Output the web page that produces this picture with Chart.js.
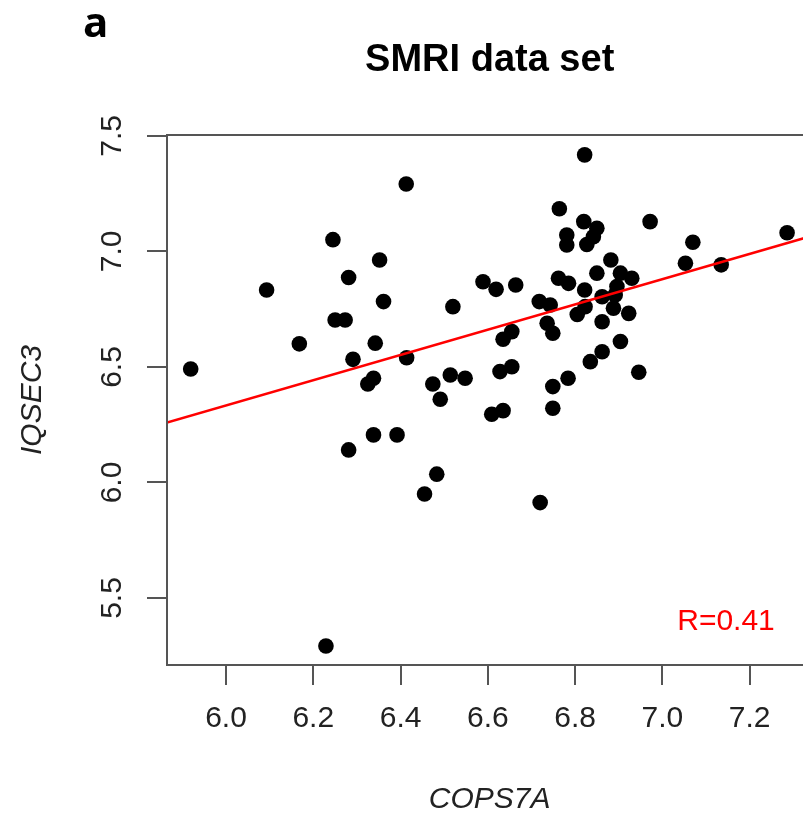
<!DOCTYPE html>
<html><head><meta charset="utf-8">
<script src="https://cdn.jsdelivr.net/npm/chart.js@4.4.1/dist/chart.umd.min.js"></script>
<style>
html,body{margin:0;padding:0;background:#fff;overflow:hidden;}
#wrap{position:relative;width:803px;height:816px;overflow:hidden;background:#fff;}
canvas{position:absolute;left:0;top:0;}
</style></head>
<body><div id="wrap"><canvas id="c" width="830" height="816" style="width:830px;height:816px"></canvas></div>
<script>
// ---- data ----
const cops7a = [6.245, 6.281, 6.093, 6.250, 6.273, 6.822, 6.413, 6.764, 6.820, 6.850,
  6.842, 6.827, 6.781, 6.781, 6.352, 6.361, 6.520, 6.589, 6.619, 6.664,
  6.762, 6.785, 6.822, 6.718, 6.743, 6.972, 7.286, 7.070, 7.053, 7.135,
  6.882, 6.850, 6.904, 6.930, 6.896, 6.862, 6.892, 6.823, 6.888, 6.923,
  6.862, 6.904, 6.862, 6.835, 6.946, 6.342, 6.414, 6.635, 6.655, 6.736,
  6.749, 6.805, 6.514, 6.548, 6.474, 6.491, 6.628, 6.655, 6.749, 6.784,
  6.749, 6.609, 6.635, 6.338, 6.392, 6.483, 6.455, 6.720, 6.168, 5.919,
  6.291, 6.325, 6.338, 6.281, 6.229];
const iqsec3 = [7.051, 6.887, 6.833, 6.703, 6.703, 7.418, 7.292, 7.185, 7.129, 7.100,
  7.064, 7.030, 7.071, 7.028, 6.963, 6.783, 6.761, 6.869, 6.836, 6.855,
  6.884, 6.862, 6.833, 6.783, 6.768, 7.129, 7.081, 7.040, 6.949, 6.942,
  6.963, 6.906, 6.906, 6.884, 6.848, 6.804, 6.812, 6.761, 6.754, 6.732,
  6.696, 6.610, 6.566, 6.523, 6.477, 6.603, 6.540, 6.620, 6.653, 6.689,
  6.646, 6.727, 6.465, 6.451, 6.426, 6.360, 6.480, 6.501, 6.415, 6.451,
  6.321, 6.295, 6.311, 6.206, 6.206, 6.036, 5.950, 5.913, 6.600, 6.491,
  6.533, 6.426, 6.451, 6.141, 5.292];
const fitX = [5.8647, 7.344];
const fitY = [6.259, 7.068];
const xTicks = [6.0, 6.2, 6.4, 6.6, 6.8, 7.0, 7.2];
const xTickLabels = ['6.0', '6.2', '6.4', '6.6', '6.8', '7.0', '7.2'];
const yTicks = [5.5, 6.0, 6.5, 7.0, 7.5];
const yTickLabels = ['5.5', '6.0', '6.5', '7.0', '7.5'];
const xRange = [5.8647, 7.344];
const yRange = [5.210, 7.504];
const titleText = 'SMRI data set';
const xTitle = 'COPS7A';
const yTitle = 'IQSEC3';
const rLabel = 'R=0.41';
const rPos = [7.146, 5.396];
const panelLabel = 'a';

// ---- chart ----
const FONT = '"Liberation Sans", Arial, Helvetica, sans-serif';
const points = cops7a.map((x, i) => ({x: x, y: iqsec3[i]}));
const fitLine = fitX.map((x, i) => ({x: x, y: fitY[i]}));

const deco = {
  id: 'deco',
  afterDraw(chart) {
    const {ctx, chartArea: a, scales: {x, y}} = chart;
    ctx.save();
    ctx.strokeStyle = '#555';
    ctx.lineWidth = 2;
    ctx.strokeRect(a.left, a.top, a.right - a.left, a.bottom - a.top);
    ctx.fillStyle = '#ff0000';
    ctx.font = '30px ' + FONT;
    ctx.textAlign = 'center';
    ctx.textBaseline = 'middle';
    ctx.fillText(rLabel, x.getPixelForValue(rPos[0]), y.getPixelForValue(rPos[1]));
    ctx.fillStyle = '#000';
    ctx.font = 'bold 42px "Open Sans", sans-serif';
    ctx.textAlign = 'left';
    ctx.textBaseline = 'alphabetic';
    ctx.fillText(panelLabel, 83, 37);
    ctx.restore();
  }
};

new Chart(document.getElementById('c'), {
  type: 'scatter',
  data: {
    datasets: [
      {type: 'line', data: fitLine, borderColor: '#ff0000', borderWidth: 2.5,
       pointRadius: 0, fill: false, order: 0},
      {type: 'scatter', data: points, backgroundColor: '#000', borderColor: '#000',
       borderWidth: 0, pointRadius: 7.8, order: 1}
    ]
  },
  options: {
    responsive: false,
    devicePixelRatio: 1,
    animation: false,
    layout: {padding: {left: 0, top: 0, right: 17.6, bottom: 0}},
    plugins: {
      legend: {display: false},
      tooltip: {enabled: false},
      title: {display: true, text: titleText, fullSize: false, color: '#000',
        font: {family: FONT, size: 38, weight: 'bold', lineHeight: 1.2},
        padding: {top: 38, bottom: 51.4}}
    },
    scales: {
      x: {
        type: 'linear', position: 'bottom', min: xRange[0], max: xRange[1],
        afterBuildTicks: s => { s.ticks = xTicks.map(v => ({value: v})); },
        afterFit: s => { s.height = 151; },
        grid: {drawOnChartArea: false, drawTicks: true, tickLength: 20, color: '#555', lineWidth: 2},
        border: {display: true, color: '#555', width: 2},
        ticks: {autoSkip: false, minRotation: 0, maxRotation: 0, padding: 16, color: '#222',
          font: {family: FONT, size: 30}, callback: (v, i) => xTickLabels[i]},
        title: {display: true, text: xTitle, color: '#222',
          font: {family: FONT, size: 30, style: 'italic', lineHeight: 1},
          padding: {top: 0, bottom: 1}}
      },
      y: {
        type: 'linear', position: 'left', min: yRange[0], max: yRange[1],
        afterBuildTicks: s => { s.ticks = yTicks.map(v => ({value: v})); },
        afterFit: s => { s.width = 167; },
        grid: {drawOnChartArea: false, drawTicks: true, tickLength: 20, color: '#555', lineWidth: 2},
        border: {display: true, color: '#555', width: 2},
        ticks: {autoSkip: false, minRotation: 90, maxRotation: 90, crossAlign: 'center', padding: 13,
          color: '#222', font: {family: FONT, size: 30}, callback: (v, i) => yTickLabels[i]},
        title: {display: true, text: yTitle, color: '#222',
          font: {family: FONT, size: 30, style: 'italic', lineHeight: 1},
          padding: {top: 18, bottom: 0}}
      }
    }
  },
  plugins: [deco]
});
</script>
</body></html>
